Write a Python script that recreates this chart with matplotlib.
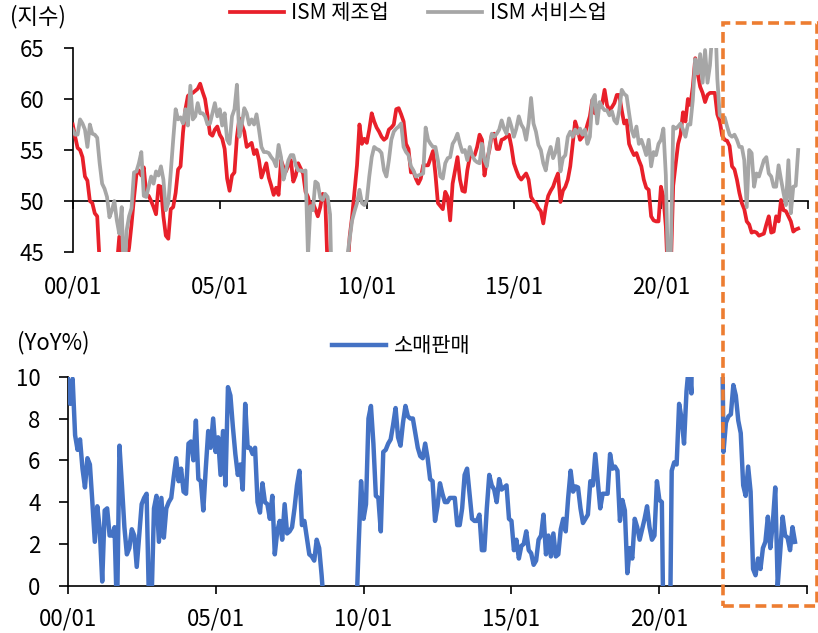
import numpy as np
import matplotlib
matplotlib.use('Agg')
import matplotlib.pyplot as plt
from matplotlib.patches import Rectangle

plt.rcParams['font.family'] = ['Noto Sans CJK KR', 'DejaVu Sans']

START_YEAR = 2000  # first month: 2000/01, monthly data

ism_mfg = [
    57.5, 56.3, 55.2, 55.0, 54.3, 52.4, 52.0, 50.0, 49.8, 48.8, 48.5, 43.9,   # 2000
    42.3, 41.9, 43.1, 43.2, 42.1, 44.0, 43.6, 46.5, 44.0, 40.8, 44.1, 45.4,   # 2001
    47.7, 50.3, 52.6, 53.0, 52.5, 53.3, 50.7, 50.5, 50.0, 49.4, 48.7, 51.5,   # 2002
    51.4, 48.5, 46.6, 46.3, 49.2, 49.4, 50.8, 53.1, 53.4, 56.7, 59.0, 60.3,   # 2003
    60.5, 60.6, 60.8, 61.0, 61.5, 60.7, 60.0, 58.4, 56.6, 56.4, 57.0, 57.3,   # 2004
    56.5, 56.1, 55.1, 52.2, 51.0, 52.5, 52.8, 56.3, 58.1, 57.5, 56.8, 55.3,   # 2005
    55.5, 55.7, 54.6, 55.0, 54.0, 52.3, 53.0, 53.7, 52.3, 51.5, 50.6, 51.3,   # 2006
    50.6, 54.0, 53.3, 52.9, 53.5, 54.0, 51.9, 52.5, 53.7, 53.2, 52.7, 50.9,   # 2007
    50.4, 49.4, 49.8, 49.2, 48.5, 49.4, 50.7, 50.4, 43.4, 38.9, 36.2, 33.1,   # 2008
    35.6, 35.8, 36.3, 40.1, 42.8, 46.5, 48.5, 51.0, 53.5, 57.5, 55.6, 56.1,   # 2009
    55.7, 57.0, 58.6, 57.8, 57.2, 56.8, 56.3, 56.0, 56.2, 57.0, 57.2, 57.5,   # 2010
    59.0, 59.1, 58.5, 57.8, 55.6, 55.1, 52.8, 52.9, 52.2, 51.7, 52.2, 53.5,   # 2011
    53.5, 53.5, 54.2, 54.9, 52.6, 49.8, 49.5, 49.2, 50.9, 50.4, 48.1, 51.7,   # 2012
    53.0, 54.3, 52.1, 51.0, 50.9, 53.0, 54.3, 54.5, 54.5, 55.3, 56.5, 56.0,   # 2013
    52.5, 54.0, 55.0, 56.5, 56.6, 55.1, 55.1, 56.0, 56.1, 56.3, 56.5, 55.3,   # 2014
    53.7, 53.0, 52.4, 52.1, 52.4, 52.7, 52.1, 50.4, 50.0, 49.8, 49.3, 49.0,   # 2015
    47.8, 49.4, 50.5, 51.0, 51.4, 52.1, 52.7, 49.9, 51.0, 51.4, 52.1, 53.4,   # 2016
    55.6, 57.8, 57.0, 56.0, 56.3, 56.6, 57.5, 58.3, 59.9, 58.6, 59.3, 59.4,   # 2017
    59.5, 60.9, 59.4, 58.9, 59.2, 59.6, 60.4, 60.4, 58.9, 57.6, 57.9, 55.6,   # 2018
    55.0, 54.5, 54.7, 54.0, 53.4, 52.1, 51.3, 51.1, 48.5, 48.1, 48.0, 48.0,   # 2019
    51.4, 50.4, 47.5, 41.5, 43.1, 51.5, 53.6, 55.6, 56.5, 58.7, 57.8, 60.0,   # 2020
    59.4, 61.2, 64.0, 62.5, 61.2, 60.6, 59.7, 60.4, 60.6, 60.6, 60.6, 58.5,   # 2021
    57.8, 56.4, 56.0, 55.9, 55.4, 53.4, 53.1, 52.1, 50.8, 49.8, 49.2, 48.0,   # 2022
    47.7, 46.9, 47.0, 46.9, 46.6, 46.7, 46.8, 47.7, 48.5, 46.9, 47.0, 48.5,   # 2023
    48.0, 50.1, 49.1, 49.0, 48.5, 48.0, 47.0, 47.2, 47.3,                     # 2024
]

ism_svc = [
    57.0, 56.5, 56.5, 58.0, 57.6, 57.0, 55.3, 57.5, 56.6, 56.5, 56.2, 53.7,   # 2000
    51.7, 51.2, 50.4, 48.4, 49.1, 50.0, 48.1, 46.8, 49.4, 41.0, 47.1, 48.5,   # 2001
    49.3, 52.8, 52.9, 53.7, 54.8, 50.5, 50.4, 51.4, 52.4, 51.7, 52.9, 52.5,   # 2002
    53.4, 52.1, 49.1, 49.8, 52.8, 56.0, 59.0, 58.0, 58.2, 57.6, 59.0, 57.4,   # 2003
    61.3, 58.0, 58.3, 59.6, 58.6, 58.6, 58.3, 57.5, 57.6, 58.6, 59.6, 58.3,   # 2004
    59.0, 57.4, 58.6, 56.0, 55.6, 58.3, 59.0, 61.4, 56.3, 57.5, 59.1, 58.6,   # 2005
    57.5, 58.0, 57.5, 58.5, 57.0, 55.3, 54.8, 54.8, 54.7, 54.3, 54.0, 53.4,   # 2006
    55.5, 54.3, 52.1, 53.0, 54.0, 54.5, 54.5, 53.5, 53.0, 53.0, 52.9, 53.0,   # 2007
    44.6, 49.5, 49.1, 51.9, 51.7, 50.3, 50.1, 50.7, 50.4, 48.7, 38.0, 40.1,   # 2008
    42.9, 41.6, 40.8, 43.7, 44.5, 46.3, 48.1, 49.0, 49.8, 51.1, 49.8, 49.6,   # 2009
    50.1, 52.4, 54.3, 55.3, 55.1, 55.0, 54.7, 53.0, 52.4, 54.0, 56.0, 56.8,   # 2010
    57.1, 57.3, 57.6, 55.3, 54.8, 54.5, 53.4, 53.0, 52.4, 52.5, 52.6, 52.7,   # 2011
    57.2, 56.0, 55.6, 55.3, 55.3, 54.0, 52.4, 52.2, 53.7, 54.2, 54.3, 55.6,   # 2012
    56.0, 56.6, 55.6, 54.8, 55.0, 54.0, 55.3, 54.5, 54.0, 53.8, 53.7, 55.6,   # 2013
    54.0, 53.4, 55.3, 56.6, 56.3, 56.6, 57.0, 57.9, 57.1, 56.6, 58.1, 57.3,   # 2014
    56.3, 57.1, 58.3, 57.5, 57.1, 56.0, 57.6, 60.1, 57.6, 56.8, 55.5, 55.0,   # 2015
    53.7, 53.0, 54.5, 55.3, 54.2, 54.8, 56.1, 52.9, 54.2, 54.5, 56.3, 56.8,   # 2016
    56.3, 57.0, 56.6, 57.1, 56.5, 57.0, 55.6, 56.3, 59.9, 60.4, 57.6, 59.7,   # 2017
    59.2, 58.9, 58.9, 58.4, 58.8, 57.9, 57.6, 58.9, 60.9, 60.5, 60.3, 58.6,   # 2018
    57.0, 56.3, 57.3, 55.6, 56.0, 55.3, 54.5, 56.0, 53.4, 54.8, 54.5, 55.6,   # 2019
    56.0, 57.1, 52.5, 41.8, 44.5, 57.3, 57.1, 57.3, 57.6, 57.0, 56.3, 57.5,   # 2020
    57.5, 59.9, 63.9, 62.5, 64.4, 61.6, 64.8, 61.6, 63.3, 66.7, 69.1, 62.0,   # 2021
    58.4, 58.2, 58.2, 57.3, 56.5, 56.3, 56.5, 56.0, 55.3, 55.3, 54.0, 49.4,   # 2022
    55.0, 54.7, 51.4, 52.7, 52.4, 53.2, 54.0, 54.3, 52.7, 52.4, 51.4, 51.4,   # 2023
    53.5, 52.1, 50.8, 49.6, 54.0, 48.8, 51.4, 51.5, 55.0,                     # 2024
]

retail_yoy = [
    10.0, 8.7, 9.9, 7.2, 6.5, 7.0, 5.6, 4.7, 6.1, 5.8, 4.0, 2.1,             # 2000
    3.8, 2.7, 0.2, 3.6, 3.7, 2.4, 2.4, 2.8, -1.5, 6.7, 4.8, 2.8,             # 2001
    1.5, 1.8, 2.7, 2.4, 0.9, 2.4, 3.9, 4.2, 4.4, -1.0, -0.8, 3.7,            # 2002
    4.3, 2.1, 4.2, 2.3, 3.7, 4.0, 4.2, 5.2, 6.1, 5.0, 5.6, 4.5,              # 2003
    4.4, 6.8, 6.9, 6.0, 7.9, 5.1, 5.0, 3.6, 5.6, 7.4, 6.6, 8.0,              # 2004
    6.4, 7.1, 5.3, 7.4, 4.8, 9.5, 9.1, 7.6, 6.3, 5.3, 5.8, 4.6,              # 2005
    8.7, 6.6, 6.6, 6.3, 6.6, 4.0, 3.5, 4.9, 4.0, 3.9, 3.2, 4.3,              # 2006
    1.5, 2.6, 3.1, 2.2, 3.9, 2.5, 2.6, 2.8, 3.7, 4.8, 5.5, 2.9,              # 2007
    3.1, 2.3, 1.5, 1.4, 1.2, 2.2, 1.8, 0.5, -1.1, -4.3, -7.4, -9.8,          # 2008
    -9.5, -8.9, -9.2, -10.0, -9.6, -8.3, -8.0, -5.4, -6.1, -1.6, 1.9, 5.0,   # 2009
    3.2, 3.9, 8.0, 8.6, 6.8, 4.3, 4.2, 2.6, 6.4, 6.5, 6.8, 7.0,              # 2010
    7.7, 8.5, 7.1, 6.7, 7.8, 8.6, 8.1, 8.0, 8.0, 7.3, 6.6, 6.2,              # 2011
    6.1, 6.8, 6.1, 5.1, 5.0, 3.1, 3.8, 4.9, 4.4, 4.0, 4.0, 4.2,              # 2012
    4.2, 4.2, 2.9, 2.9, 3.7, 5.3, 5.6, 4.4, 3.2, 3.1, 3.1, 3.4,              # 2013
    1.7, 1.7, 3.7, 5.3, 4.8, 4.6, 4.0, 5.1, 4.6, 4.7, 4.8, 3.2,              # 2014
    3.1, 1.7, 2.2, 1.3, 1.9, 2.0, 2.6, 1.7, 1.55, 1.0, 1.2, 2.2,             # 2015
    2.4, 3.4, 1.5, 2.4, 1.4, 2.5, 1.4, 1.5, 2.7, 3.2, 2.6, 4.2,              # 2016
    5.5, 4.5, 4.75, 4.7, 3.7, 3.0, 3.2, 3.4, 5.0, 4.8, 6.3, 5.0,             # 2017
    3.7, 4.4, 4.4, 4.4, 6.3, 5.6, 5.7, 5.5, 3.1, 4.1, 3.6, 0.6,              # 2018
    1.8, 1.3, 3.2, 2.8, 2.2, 2.7, 3.2, 3.8, 2.8, 2.2, 2.4, 5.0,              # 2019
    4.1, 4.0, -5.6, -19.9, -5.6, 5.5, 5.9, 5.8, 8.7, 8.0, 6.8, 9.3,          # 2020
    10.6, 9.2, 28.0, 51.0, 28.0, 18.0, 15.0, 15.0, 14.0, 16.0, 18.0, 17.0,   # 2021
    13.3, 17.6, 6.4, 7.8, 8.1, 8.2, 9.6, 9.1, 7.9, 7.3, 4.8, 4.3,            # 2022
    5.7, 4.5, 0.8, 0.5, 1.3, 0.8, 1.8, 2.1, 3.3, 1.8, 3.0, 4.7,              # 2023
    0.0, 1.6, 3.3, 2.4, 2.3, 1.7, 2.8, 2.1,                                  # 2024
]

tick_years = [2000, 2005, 2010, 2015, 2020, 2025]
tick_labels = ['00/01', '05/01', '10/01', '15/01', '20/01', '']
top_yticks = [45, 50, 55, 60, 65]
bottom_yticks = [0, 2, 4, 6, 8, 10]

x_ism = START_YEAR + np.arange(len(ism_mfg)) / 12.0
x_ret = START_YEAR + np.arange(len(retail_yoy)) / 12.0

RED = '#E8202A'
GRAY = '#A6A6A6'
BLUE = '#4472C4'
ORANGE = '#ED7D31'
FS = 16
LFS = 15

W, H = 818, 633
fig = plt.figure(figsize=(W / 100, H / 100), dpi=100)


def fx(px):
    return px / W


def fy(py):
    return 1 - py / H


# ---------- top panel ----------
ax1 = fig.add_axes([fx(72.7), fy(252), (808 - 72.7) / W, (252 - 48) / H])
ax1.plot(x_ism, ism_mfg, color=RED, lw=2.7, label='ISM 제조업', zorder=3)
ax1.plot(x_ism, ism_svc, color=GRAY, lw=2.7, label='ISM 서비스업', zorder=3)
ax1.set_xlim(2000, 2025)
ax1.set_ylim(45, 65)
ax1.set_yticks(top_yticks)
for s in ['top', 'right']:
    ax1.spines[s].set_visible(False)
ax1.spines['bottom'].set_position(('data', 50))
for s in ['left', 'bottom']:
    ax1.spines[s].set_linewidth(1.2)
ax1.set_xticks(tick_years)
ax1.tick_params(axis='x', direction='out', length=6, width=1.2, labelbottom=False)
ax1.tick_params(axis='y', direction='out', length=6.5, width=1.2, labelsize=FS, pad=14)

sec = ax1.secondary_xaxis(-0.115)
sec.set_xticks(tick_years, tick_labels)
sec.tick_params(length=0, labelsize=FS, pad=0)
sec.spines['bottom'].set_visible(False)

ax1.legend(loc='center', bbox_to_anchor=(fx(418), fy(13)), bbox_transform=fig.transFigure,
           ncol=2, frameon=False, fontsize=LFS, handlelength=2.6, handletextpad=0.35,
           columnspacing=1.9, borderpad=0, borderaxespad=0)

fig.text(fx(10), fy(17), '(지수)', fontsize=FS, ha='left', va='center')

# ---------- bottom panel ----------
ax2 = fig.add_axes([fx(67.7), fy(585.7), (807.3 - 67.7) / W, (585.7 - 376.7) / H])
ax2.plot(x_ret, retail_yoy, color=BLUE, lw=3.2, label='소매판매', zorder=3)
ax2.set_xlim(2000, 2025)
ax2.set_ylim(0, 10)
ax2.set_yticks(bottom_yticks)
for s in ['top', 'right']:
    ax2.spines[s].set_visible(False)
for s in ['left', 'bottom']:
    ax2.spines[s].set_linewidth(1.2)
ax2.set_xticks(tick_years)
ax2.set_xticklabels(tick_labels)
ax2.tick_params(axis='x', direction='out', length=6, width=1.2, labelsize=FS, pad=10)
ax2.tick_params(axis='y', direction='out', length=6.5, width=1.2, labelsize=FS, pad=13)

ax2.legend(loc='center', bbox_to_anchor=(fx(401), fy(346)), bbox_transform=fig.transFigure,
           frameon=False, fontsize=LFS, handlelength=2.6, handletextpad=0.35,
           borderpad=0, borderaxespad=0)

fig.text(fx(17), fy(343), '(YoY%)', fontsize=FS, ha='left', va='center')

# ---------- highlight box ----------
rect = Rectangle((fx(723.3), fy(606)), fx(816.7) - fx(723.3), fy(23.3) - fy(606),
                 transform=fig.transFigure, fill=False, edgecolor=ORANGE, lw=2.6,
                 linestyle=(0, (3, 1.5)), clip_on=False, zorder=10)
fig.add_artist(rect)

fig.savefig('out.png', dpi=100)
